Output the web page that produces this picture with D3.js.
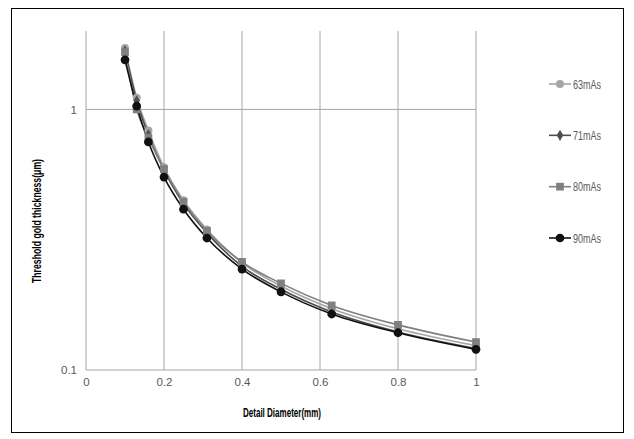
<!DOCTYPE html>
<html>
<head>
<meta charset="utf-8">
<script src="https://cdn.jsdelivr.net/npm/d3@7"></script>
<style>
  body { margin: 0; background: #fff; }
  svg text { font-family: "Liberation Sans", Arial, sans-serif; }
</style>
</head>
<body>
<script>
const w = 634;
const h = 439;

// detail diameters (mm)
const diameters = [0.1, 0.13, 0.16, 0.2, 0.25, 0.31, 0.4, 0.5, 0.63, 0.8, 1.0];
const seriesNames = ["63mAs", "71mAs", "80mAs", "90mAs"];
const s63 = [1.72, 1.11, 0.83, 0.60, 0.448, 0.346, 0.258, 0.210, 0.172, 0.144, 0.124];
const s71 = [1.68, 1.08, 0.80, 0.585, 0.435, 0.336, 0.250, 0.204, 0.167, 0.140, 0.121];
const s80 = [1.66, 1.00, 0.78, 0.59, 0.442, 0.342, 0.260, 0.215, 0.177, 0.149, 0.128];
const s90 = [1.55, 1.03, 0.75, 0.55, 0.414, 0.321, 0.244, 0.1995, 0.164, 0.139, 0.120];
const xTicks = [0, 0.2, 0.4, 0.6, 0.8, 1];
const yTicks = [0.1, 1];

const styles = [
  {color: "#a6a6a6", shape: d3.symbolCircle, size: 50},
  {color: "#4d4d4d", shape: d3.symbolDiamond, size: 36},
  {color: "#808080", shape: d3.symbolSquare, size: 60},
  {color: "#111111", shape: d3.symbolCircle, size: 60}
];
const allSeries = [s63, s71, s80, s90].map((vals, i) => ({
  name: seriesNames[i],
  style: styles[i],
  points: vals.map((v, j) => ({x: diameters[j], y: v}))
}));

const svg = d3.select("body").append("svg")
  .attr("width", w)
  .attr("height", h);

svg.append("rect")
  .attr("x", 11.5).attr("y", 8.5)
  .attr("width", 612).attr("height", 424)
  .attr("fill", "none")
  .attr("stroke", "#000")
  .attr("stroke-width", 1);

const xScale = d3.scaleLinear().domain([0, 1]).range([86, 476]);
const yScale = d3.scaleLog().domain([0.1, 2]).range([370, 31]);

// grid
svg.append("g").selectAll("line")
  .data(xTicks)
  .enter().append("line")
  .attr("x1", d => xScale(d)).attr("x2", d => xScale(d))
  .attr("y1", yScale(2)).attr("y2", yScale(0.1))
  .attr("stroke", "#a6a6a6")
  .attr("stroke-width", 1);

svg.append("g").selectAll("line")
  .data(yTicks)
  .enter().append("line")
  .attr("x1", xScale(0)).attr("x2", xScale(1))
  .attr("y1", d => yScale(d)).attr("y2", d => yScale(d))
  .attr("stroke", "#a6a6a6")
  .attr("stroke-width", 1);

// axes (labels only)
const xAxis = d3.axisBottom(xScale).tickValues(xTicks).tickSize(0).tickPadding(8)
  .tickFormat(d3.format("~g"));
const yAxis = d3.axisLeft(yScale).tickValues(yTicks).tickSize(0).tickPadding(9)
  .tickFormat(d3.format("~g"));

const gx = svg.append("g")
  .attr("transform", "translate(0," + yScale(0.1) + ")")
  .call(xAxis);
const gy = svg.append("g")
  .attr("transform", "translate(" + xScale(0) + ",0)")
  .call(yAxis);
[gx, gy].forEach(g => {
  g.select(".domain").remove();
  g.selectAll("text")
    .attr("fill", "#595959")
    .style("font-family", "'Liberation Sans', Arial, sans-serif")
    .style("font-size", "11.5px");
});

// lines + markers
const line = d3.line()
  .x(d => xScale(d.x))
  .y(d => yScale(d.y))
  .curve(d3.curveMonotoneX);

allSeries.forEach(s => {
  svg.append("path")
    .datum(s.points)
    .attr("fill", "none")
    .attr("stroke", s.style.color)
    .attr("stroke-width", 1.6)
    .attr("d", line);
});
allSeries.forEach(s => {
  svg.append("g").selectAll("path")
    .data(s.points)
    .enter().append("path")
    .attr("transform", d => "translate(" + xScale(d.x) + "," + yScale(d.y) + ")")
    .attr("d", d3.symbol().type(s.style.shape).size(s.style.size))
    .attr("fill", s.style.color);
});

// axis titles
svg.append("text")
  .attr("x", 282).attr("y", 417)
  .attr("text-anchor", "middle")
  .attr("fill", "#000")
  .attr("textLength", 78)
  .attr("lengthAdjust", "spacingAndGlyphs")
  .style("font-size", "12.5px")
  .style("font-weight", "bold")
  .text("Detail Diameter(mm)");

svg.append("text")
  .attr("transform", "translate(41,221) rotate(-90)")
  .attr("text-anchor", "middle")
  .attr("fill", "#000")
  .attr("textLength", 124)
  .attr("lengthAdjust", "spacingAndGlyphs")
  .style("font-size", "12.5px")
  .style("font-weight", "bold")
  .text("Threshold gold thickness(μm)");

// legend
const legendY = d3.scalePoint().domain(seriesNames).range([84, 238]);
const legend = svg.append("g").selectAll("g")
  .data(allSeries)
  .enter().append("g")
  .attr("transform", d => "translate(549," + legendY(d.name) + ")");
legend.append("line")
  .attr("x1", 0).attr("x2", 22)
  .attr("stroke", d => d.style.color)
  .attr("stroke-width", 1.6);
legend.append("path")
  .attr("transform", "translate(11,0)")
  .attr("d", d => d3.symbol().type(d.style.shape).size(d.style.size)())
  .attr("fill", d => d.style.color);
legend.append("text")
  .attr("x", 24).attr("y", 4.5)
  .attr("fill", "#595959")
  .attr("textLength", 28)
  .attr("lengthAdjust", "spacingAndGlyphs")
  .style("font-size", "12.5px")
  .text(d => d.name);
</script>
</body>
</html>
